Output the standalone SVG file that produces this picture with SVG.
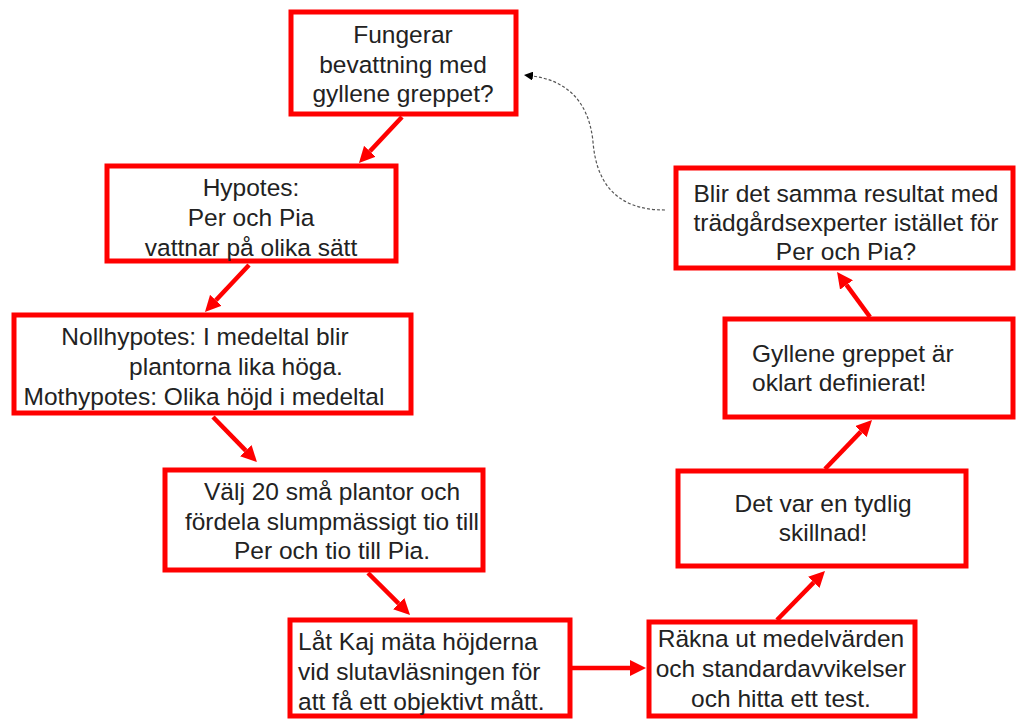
<svg xmlns="http://www.w3.org/2000/svg" width="1019" height="720" viewBox="0 0 1019 720">
<style>
.box{fill:#fff;stroke:#ff0000;stroke-width:5}
.t{font-family:"Liberation Sans",Arial,sans-serif;font-size:24.5px;fill:#222}
.c{text-anchor:middle}
.arr{stroke:#ff0000;stroke-width:4.5;fill:none;marker-end:url(#ah)}
.dash{stroke:#555;stroke-width:1.2;fill:none;stroke-dasharray:3 2;marker-end:url(#dh)}
</style>
<defs>
<marker id="ah" viewBox="0 0 16 16" refX="0" refY="8" markerWidth="16" markerHeight="16" markerUnits="userSpaceOnUse" orient="auto">
<path d="M0,0 L16,8 L0,16 z" fill="#ff0000"/>
</marker>
<marker id="dh" viewBox="0 0 10 10" refX="1" refY="5" markerWidth="9" markerHeight="9" markerUnits="userSpaceOnUse" orient="auto">
<path d="M0,0 L10,5 L0,10 z" fill="#000"/>
</marker>
</defs>
<rect width="1019" height="720" fill="#fff"/>
<g id="connectors">
<line class="arr" x1="402" y1="117" x2="369.9" y2="151.3"/>
<line class="arr" x1="249" y1="265" x2="215.9" y2="300.3"/>
<line class="arr" x1="213" y1="417" x2="245.8" y2="450.6"/>
<line class="arr" x1="368" y1="573" x2="398.7" y2="603.7"/>
<line class="arr" x1="572" y1="668" x2="630" y2="668"/>
<line class="arr" x1="777" y1="620" x2="813.8" y2="582.4"/>
<line class="arr" x1="825" y1="469" x2="860.9" y2="431.6"/>
<line class="arr" x1="870" y1="317" x2="846.5" y2="284.9"/>
<path class="dash" d="M665,210 C612,210 596,178 593,142 C589,100 565,80 532,76"/>
</g>
<g id="n1">
<rect class="box" x="291" y="12" width="225" height="102"/>
<text class="t c" x="403" y="43">Fungerar</text>
<text class="t c" x="403" y="73">bevattning med</text>
<text class="t c" x="403" y="102">gyllene greppet?</text>
</g>
<g id="n2">
<rect class="box" x="107" y="166" width="289" height="95"/>
<text class="t c" x="251" y="196">Hypotes:</text>
<text class="t c" x="251" y="226">Per och Pia</text>
<text class="t c" x="251" y="256">vattnar på olika sätt</text>
</g>
<g id="n3">
<rect class="box" x="14" y="315" width="397" height="98"/>
<text class="t c" x="205" y="345">Nollhypotes: I medeltal blir</text>
<text class="t c" x="236" y="375">plantorna lika höga.</text>
<text class="t c" x="204" y="405">Mothypotes: Olika höjd i medeltal</text>
</g>
<g id="n4">
<rect class="box" x="165" y="470" width="318" height="100"/>
<text class="t c" x="332" y="500">Välj 20 små plantor och</text>
<text class="t c" x="332" y="530">fördela slumpmässigt tio till</text>
<text class="t c" x="332" y="559">Per och tio till Pia.</text>
</g>
<g id="n5">
<rect class="box" x="290" y="620" width="280" height="96"/>
<text class="t" x="298" y="650">Låt Kaj mäta höjderna</text>
<text class="t" x="298" y="680">vid slutavläsningen för</text>
<text class="t" x="298" y="710">att få ett objektivt mått.</text>
</g>
<g id="n6">
<rect class="box" x="649" y="622" width="266" height="94"/>
<text class="t c" x="781" y="647">Räkna ut medelvärden</text>
<text class="t c" x="781" y="677">och standardavvikelser</text>
<text class="t c" x="781" y="707">och hitta ett test.</text>
</g>
<g id="n7">
<rect class="box" x="678" y="471" width="288" height="95"/>
<text class="t c" x="823" y="512">Det var en tydlig</text>
<text class="t c" x="823" y="541">skillnad!</text>
</g>
<g id="n8">
<rect class="box" x="725" y="319" width="288" height="98"/>
<text class="t" x="752" y="362">Gyllene greppet är</text>
<text class="t" x="752" y="391">oklart definierat!</text>
</g>
<g id="n9">
<rect class="box" x="676" y="168" width="337" height="100"/>
<text class="t c" x="846" y="202">Blir det samma resultat med</text>
<text class="t c" x="846" y="231">trädgårdsexperter istället för</text>
<text class="t c" x="846" y="260">Per och Pia?</text>
</g>
</svg>
